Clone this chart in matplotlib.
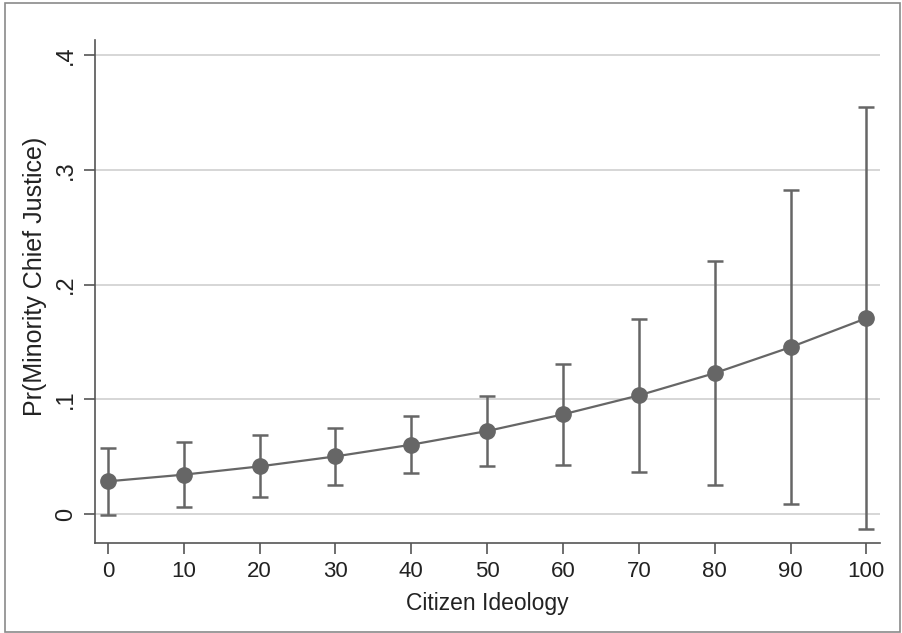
import matplotlib.pyplot as plt
from matplotlib.patches import Rectangle

plt.rcParams["font.family"] = ["Liberation Sans", "DejaVu Sans"]

ideology = [0, 10, 20, 30, 40, 50, 60, 70, 80, 90, 100]
prob = [0.0287, 0.0345, 0.0417, 0.0504, 0.0606, 0.0725, 0.087, 0.1035, 0.1229, 0.1455, 0.1707]
ci_low = [-0.0003, 0.006, 0.015, 0.0255, 0.036, 0.0423, 0.0426, 0.0368, 0.0252, 0.0087, -0.013]
ci_high = [0.058, 0.063, 0.0687, 0.0754, 0.0855, 0.103, 0.131, 0.170, 0.2206, 0.282, 0.355]

y_ticks = [0, 0.1, 0.2, 0.3, 0.4]
y_labels = ["0", ".1", ".2", ".3", ".4"]

GRAY = "#666666"

fig = plt.figure(figsize=(9.02, 6.33), dpi=100)
fig.patches.append(Rectangle((5 / 902, 1 / 633), 895 / 902, 629 / 633, transform=fig.transFigure,
                             fill=False, edgecolor="#8a8a8a", lw=1.2))
ax = fig.add_axes([95 / 902, (633 - 543) / 633, 785 / 902, 503 / 633])

ax.errorbar(ideology, prob, yerr=[[p - l for p, l in zip(prob, ci_low)],
                                  [h - p for p, h in zip(prob, ci_high)]],
            fmt="none", ecolor=GRAY, elinewidth=1.8, capsize=6, capthick=1.8, zorder=3)
ax.plot(ideology, prob, color=GRAY, lw=1.6, marker="o", ms=11, mfc=GRAY, mec=GRAY, zorder=4)

ax.set_xlim(-1.7, 101.8)
ax.set_ylim(-0.025, 0.413)
ax.set_xticks(ideology)
ax.set_yticks(y_ticks)
ax.set_yticklabels(y_labels, rotation=90, va="center")
ax.grid(axis="y", color="#d0d0d0", lw=1.2)
ax.set_axisbelow(True)
for s in ("top", "right"):
    ax.spines[s].set_visible(False)
for s in ("left", "bottom"):
    ax.spines[s].set_color("#555555")
    ax.spines[s].set_linewidth(1.2)
ax.tick_params(axis="both", direction="out", length=8, width=1.2, color="#555555",
               labelcolor="#222222", pad=5)
ax.tick_params(axis="x", labelsize=16)
ax.tick_params(axis="y", labelsize=17)
ax.set_xlabel("Citizen Ideology", fontsize=16.5, color="#222222", labelpad=7)
ax.set_ylabel("Pr(Minority Chief Justice)", fontsize=18, color="#222222")
ax.yaxis.set_label_coords(-0.061, 0.53)

fig.savefig("out.png", dpi=100)
